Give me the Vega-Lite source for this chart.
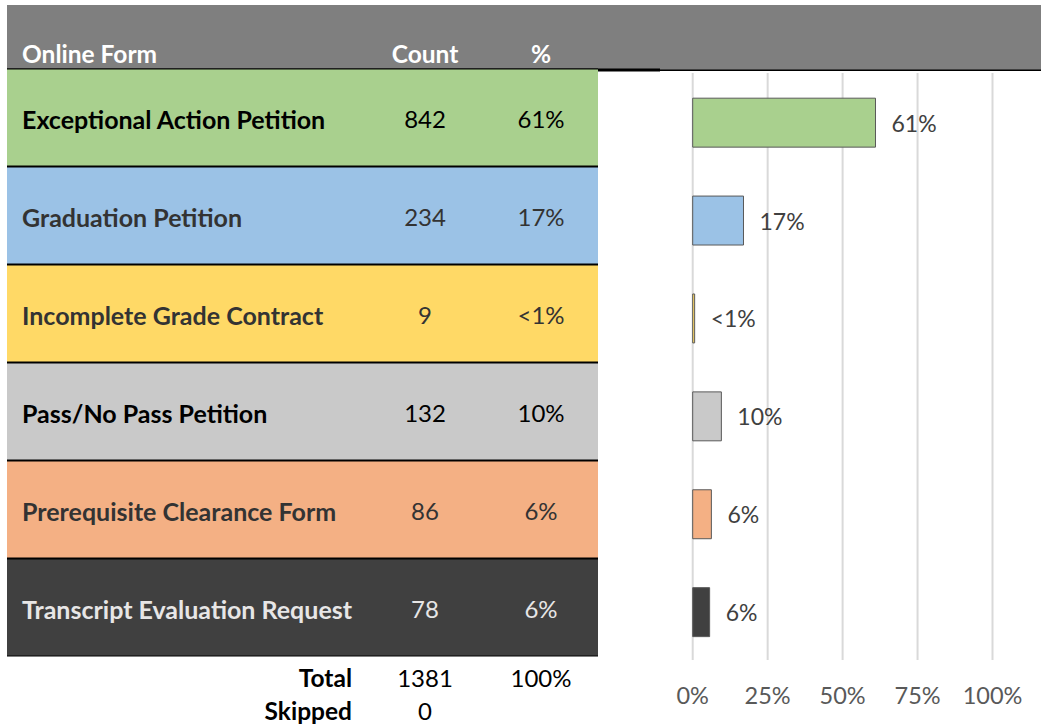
{
  "$schema": "https://vega.github.io/schema/vega-lite/v6.json",
  "width": 1041,
  "height": 725,
  "autosize": "none",
  "padding": 0,
  "background": "white",
  "config": {"view": {"stroke": null}, "text": {"font": "Lato"}},
  "datasets": {
    "forms": [
      {"form": "Exceptional Action Petition", "count": 842, "pct": 0.6097, "pctLabel": "61%"},
      {"form": "Graduation Petition", "count": 234, "pct": 0.1694, "pctLabel": "17%"},
      {"form": "Incomplete Grade Contract", "count": 9, "pct": 0.0065, "pctLabel": "<1%"},
      {"form": "Pass/No Pass Petition", "count": 132, "pct": 0.0956, "pctLabel": "10%"},
      {"form": "Prerequisite Clearance Form", "count": 86, "pct": 0.0623, "pctLabel": "6%"},
      {"form": "Transcript Evaluation Request", "count": 78, "pct": 0.0565, "pctLabel": "6%"}
    ],
    "header": [{"column": "Online Form"}, {"column": "Count"}, {"column": "%"}],
    "footer": [
      {"label": "Total", "count": "1381", "pct": "100%"},
      {"label": "Skipped", "count": "0", "pct": ""}
    ],
    "ticks": [{"t": 0}, {"t": 0.25}, {"t": 0.5}, {"t": 0.75}, {"t": 1}]
  },
  "resolve": {"scale": {"x": "independent", "y": "independent", "color": "independent"}},
  "layer": [
    {
      "data": {"name": "header"},
      "transform": [{"filter": "datum.column === 'Online Form'"}],
      "mark": {"type": "rect", "color": "#7f7f7f"},
      "encoding": {
        "x": {"datum": "all", "type": "nominal", "axis": null, "scale": {"domain": ["all"], "range": [7, 1041], "paddingInner": 0, "paddingOuter": 0}},
        "y": {"datum": "header", "type": "nominal", "axis": null, "scale": {"domain": ["header"], "range": [5, 70], "paddingInner": 0, "paddingOuter": 0}}
      }
    },
    {
      "data": {"name": "header"},
      "transform": [{"filter": "datum.column === 'Online Form'"}],
      "mark": {"type": "rect", "color": "#000000"},
      "encoding": {
        "x": {"datum": "all", "type": "nominal", "axis": null, "scale": {"domain": ["all"], "range": [7, 1041], "paddingInner": 0, "paddingOuter": 0}},
        "y": {"datum": "line", "type": "nominal", "axis": null, "scale": {"domain": ["line"], "range": [69.5, 71], "paddingInner": 0, "paddingOuter": 0}}
      }
    },
    {
      "data": {"name": "header"},
      "transform": [{"filter": "datum.column === 'Online Form'"}],
      "mark": {"type": "rect", "color": "#000000"},
      "encoding": {
        "x": {"datum": "table", "type": "nominal", "axis": null, "scale": {"domain": ["table"], "range": [7, 660], "paddingInner": 0, "paddingOuter": 0}},
        "y": {"datum": "line", "type": "nominal", "axis": null, "scale": {"domain": ["line"], "range": [68.5, 71.5], "paddingInner": 0, "paddingOuter": 0}}
      }
    },
    {
      "data": {"name": "header"},
      "transform": [{"filter": "datum.column === 'Online Form'"}],
      "mark": {"type": "rect", "color": "#000000"},
      "encoding": {
        "x": {"datum": "table", "type": "nominal", "axis": null, "scale": {"domain": ["table"], "range": [7, 598], "paddingInner": 0, "paddingOuter": 0}},
        "y": {"datum": "table", "type": "nominal", "axis": null, "scale": {"domain": ["table"], "range": [68.5, 656.5], "paddingInner": 0, "paddingOuter": 0}}
      }
    },
    {
      "data": {"name": "forms"},
      "mark": {"type": "rect"},
      "encoding": {
        "x": {"datum": "table", "type": "nominal", "axis": null, "scale": {"domain": ["table"], "range": [7, 598], "paddingInner": 0, "paddingOuter": 0}},
        "y": {"field": "form", "type": "nominal", "axis": null, "sort": null, "scale": {"domain": ["Exceptional Action Petition", "Graduation Petition", "Incomplete Grade Contract", "Pass/No Pass Petition", "Prerequisite Clearance Form", "Transcript Evaluation Request"], "range": [68.5, 656.5], "paddingInner": 0.020408, "paddingOuter": 0.010204}},
        "color": {"field": "form", "type": "nominal", "legend": null, "scale": {"domain": ["Exceptional Action Petition", "Graduation Petition", "Incomplete Grade Contract", "Pass/No Pass Petition", "Prerequisite Clearance Form", "Transcript Evaluation Request"], "range": ["#a9d08e", "#9bc2e6", "#ffd966", "#c9c9c9", "#f4b084", "#404040"]}}
      }
    },
    {
      "data": {"name": "forms"},
      "mark": {"type": "text", "align": "left", "baseline": "middle", "fontSize": 25, "fontWeight": "bold", "dy": 3},
      "encoding": {
        "x": {"datum": "form", "type": "nominal", "axis": null, "scale": {"domain": ["form"], "range": [21.5, 22.5], "paddingInner": 0, "paddingOuter": 0}},
        "y": {"field": "form", "type": "nominal", "axis": null, "sort": null, "scale": {"domain": ["Exceptional Action Petition", "Graduation Petition", "Incomplete Grade Contract", "Pass/No Pass Petition", "Prerequisite Clearance Form", "Transcript Evaluation Request"], "range": [68.5, 656.5], "paddingInner": 0.020408, "paddingOuter": 0.010204}},
        "text": {"field": "form"},
        "color": {"field": "form", "type": "nominal", "legend": null, "scale": {"domain": ["Exceptional Action Petition", "Graduation Petition", "Incomplete Grade Contract", "Pass/No Pass Petition", "Prerequisite Clearance Form", "Transcript Evaluation Request"], "range": ["#000000", "#333333", "#333333", "#000000", "#333333", "#e7e6e6"]}}
      }
    },
    {
      "data": {"name": "forms"},
      "mark": {"type": "text", "align": "center", "baseline": "middle", "fontSize": 24, "dy": 3},
      "encoding": {
        "x": {"datum": "count", "type": "nominal", "axis": null, "scale": {"domain": ["count"], "range": [365, 485], "paddingInner": 0, "paddingOuter": 0}},
        "y": {"field": "form", "type": "nominal", "axis": null, "sort": null, "scale": {"domain": ["Exceptional Action Petition", "Graduation Petition", "Incomplete Grade Contract", "Pass/No Pass Petition", "Prerequisite Clearance Form", "Transcript Evaluation Request"], "range": [68.5, 656.5], "paddingInner": 0.020408, "paddingOuter": 0.010204}},
        "text": {"field": "count"},
        "color": {"field": "form", "type": "nominal", "legend": null, "scale": {"domain": ["Exceptional Action Petition", "Graduation Petition", "Incomplete Grade Contract", "Pass/No Pass Petition", "Prerequisite Clearance Form", "Transcript Evaluation Request"], "range": ["#000000", "#333333", "#333333", "#000000", "#333333", "#e7e6e6"]}}
      }
    },
    {
      "data": {"name": "forms"},
      "mark": {"type": "text", "align": "center", "baseline": "middle", "fontSize": 24, "dy": 3},
      "encoding": {
        "x": {"datum": "pct", "type": "nominal", "axis": null, "scale": {"domain": ["pct"], "range": [485, 597], "paddingInner": 0, "paddingOuter": 0}},
        "y": {"field": "form", "type": "nominal", "axis": null, "sort": null, "scale": {"domain": ["Exceptional Action Petition", "Graduation Petition", "Incomplete Grade Contract", "Pass/No Pass Petition", "Prerequisite Clearance Form", "Transcript Evaluation Request"], "range": [68.5, 656.5], "paddingInner": 0.020408, "paddingOuter": 0.010204}},
        "text": {"field": "pctLabel"},
        "color": {"field": "form", "type": "nominal", "legend": null, "scale": {"domain": ["Exceptional Action Petition", "Graduation Petition", "Incomplete Grade Contract", "Pass/No Pass Petition", "Prerequisite Clearance Form", "Transcript Evaluation Request"], "range": ["#000000", "#333333", "#333333", "#000000", "#333333", "#e7e6e6"]}}
      }
    },
    {
      "data": {"name": "header"},
      "transform": [{"filter": "datum.column === 'Online Form'"}],
      "mark": {"type": "text", "align": "left", "baseline": "middle", "fontSize": 24.5, "fontWeight": "bold", "color": "white"},
      "encoding": {
        "x": {"datum": "form", "type": "nominal", "axis": null, "scale": {"domain": ["form"], "range": [21.5, 22.5], "paddingInner": 0, "paddingOuter": 0}},
        "y": {"datum": "header", "type": "nominal", "axis": null, "scale": {"domain": ["header"], "range": [40, 72], "paddingInner": 0, "paddingOuter": 0}},
        "text": {"field": "column"}
      }
    },
    {
      "data": {"name": "header"},
      "transform": [{"filter": "datum.column === 'Count'"}],
      "mark": {"type": "text", "align": "center", "baseline": "middle", "fontSize": 24.5, "fontWeight": "bold", "color": "white"},
      "encoding": {
        "x": {"datum": "count", "type": "nominal", "axis": null, "scale": {"domain": ["count"], "range": [365, 485], "paddingInner": 0, "paddingOuter": 0}},
        "y": {"datum": "header", "type": "nominal", "axis": null, "scale": {"domain": ["header"], "range": [40, 72], "paddingInner": 0, "paddingOuter": 0}},
        "text": {"field": "column"}
      }
    },
    {
      "data": {"name": "header"},
      "transform": [{"filter": "datum.column === '%'"}],
      "mark": {"type": "text", "align": "center", "baseline": "middle", "fontSize": 24.5, "fontWeight": "bold", "color": "white"},
      "encoding": {
        "x": {"datum": "pct", "type": "nominal", "axis": null, "scale": {"domain": ["pct"], "range": [485, 597], "paddingInner": 0, "paddingOuter": 0}},
        "y": {"datum": "header", "type": "nominal", "axis": null, "scale": {"domain": ["header"], "range": [40, 72], "paddingInner": 0, "paddingOuter": 0}},
        "text": {"field": "column"}
      }
    },
    {
      "data": {"name": "footer"},
      "mark": {"type": "text", "align": "right", "baseline": "middle", "fontSize": 24.5, "fontWeight": "bold", "color": "black"},
      "encoding": {
        "x": {"datum": "form", "type": "nominal", "axis": null, "scale": {"domain": ["form"], "range": [351.5, 352.5], "paddingInner": 0, "paddingOuter": 0}},
        "y": {"field": "label", "type": "nominal", "axis": null, "sort": null, "scale": {"domain": ["Total", "Skipped"], "range": [663.5, 729.5], "paddingInner": 0, "paddingOuter": 0}},
        "text": {"field": "label"}
      }
    },
    {
      "data": {"name": "footer"},
      "mark": {"type": "text", "align": "center", "baseline": "middle", "fontSize": 24, "color": "black"},
      "encoding": {
        "x": {"datum": "count", "type": "nominal", "axis": null, "scale": {"domain": ["count"], "range": [365, 485], "paddingInner": 0, "paddingOuter": 0}},
        "y": {"field": "label", "type": "nominal", "axis": null, "sort": null, "scale": {"domain": ["Total", "Skipped"], "range": [663.5, 729.5], "paddingInner": 0, "paddingOuter": 0}},
        "text": {"field": "count"}
      }
    },
    {
      "data": {"name": "footer"},
      "mark": {"type": "text", "align": "center", "baseline": "middle", "fontSize": 24, "color": "black"},
      "encoding": {
        "x": {"datum": "pct", "type": "nominal", "axis": null, "scale": {"domain": ["pct"], "range": [485, 597], "paddingInner": 0, "paddingOuter": 0}},
        "y": {"field": "label", "type": "nominal", "axis": null, "sort": null, "scale": {"domain": ["Total", "Skipped"], "range": [663.5, 729.5], "paddingInner": 0, "paddingOuter": 0}},
        "text": {"field": "pct"}
      }
    },
    {
      "data": {"name": "ticks"},
      "mark": {"type": "rule", "color": "#d9d9d9", "strokeWidth": 2},
      "encoding": {
        "x": {"field": "t", "type": "quantitative", "axis": null, "scale": {"domain": [0, 1], "range": [692.7, 992.5]}},
        "y": {"datum": 0, "type": "quantitative", "axis": null, "scale": {"domain": [0, 1], "range": [73, 660]}},
        "y2": {"datum": 1}
      }
    },
    {
      "data": {"name": "ticks"},
      "mark": {"type": "text", "align": "center", "baseline": "middle", "fontSize": 23.5, "color": "#595959"},
      "encoding": {
        "x": {"field": "t", "type": "quantitative", "axis": null, "scale": {"domain": [0, 1], "range": [692.7, 992.5]}},
        "y": {"datum": "axis", "type": "nominal", "axis": null, "scale": {"domain": ["axis"], "range": [682, 712], "paddingInner": 0, "paddingOuter": 0}},
        "text": {"field": "t", "type": "quantitative", "format": ".0%"}
      }
    },
    {
      "data": {"name": "forms"},
      "mark": {"type": "bar", "stroke": "#595959", "strokeWidth": 1},
      "encoding": {
        "x": {"field": "pct", "type": "quantitative", "axis": null, "scale": {"domain": [0, 1], "range": [692.7, 992.5]}},
        "y": {"field": "form", "type": "nominal", "axis": null, "sort": null, "scale": {"domain": ["Exceptional Action Petition", "Graduation Petition", "Incomplete Grade Contract", "Pass/No Pass Petition", "Prerequisite Clearance Form", "Transcript Evaluation Request"], "range": [73.7, 661.1], "paddingInner": 0.5, "paddingOuter": 0.25}},
        "color": {"field": "form", "type": "nominal", "legend": null, "scale": {"domain": ["Exceptional Action Petition", "Graduation Petition", "Incomplete Grade Contract", "Pass/No Pass Petition", "Prerequisite Clearance Form", "Transcript Evaluation Request"], "range": ["#a9d08e", "#9bc2e6", "#ffd966", "#c9c9c9", "#f4b084", "#404040"]}}
      }
    },
    {
      "data": {"name": "forms"},
      "mark": {"type": "text", "align": "left", "baseline": "middle", "fontSize": 23, "color": "#404040", "dx": 16, "dy": 2},
      "encoding": {
        "x": {"field": "pct", "type": "quantitative", "axis": null, "scale": {"domain": [0, 1], "range": [692.7, 992.5]}},
        "y": {"field": "form", "type": "nominal", "axis": null, "sort": null, "scale": {"domain": ["Exceptional Action Petition", "Graduation Petition", "Incomplete Grade Contract", "Pass/No Pass Petition", "Prerequisite Clearance Form", "Transcript Evaluation Request"], "range": [73.7, 661.1], "paddingInner": 0.5, "paddingOuter": 0.25}},
        "text": {"field": "pctLabel"}
      }
    }
  ]
}
